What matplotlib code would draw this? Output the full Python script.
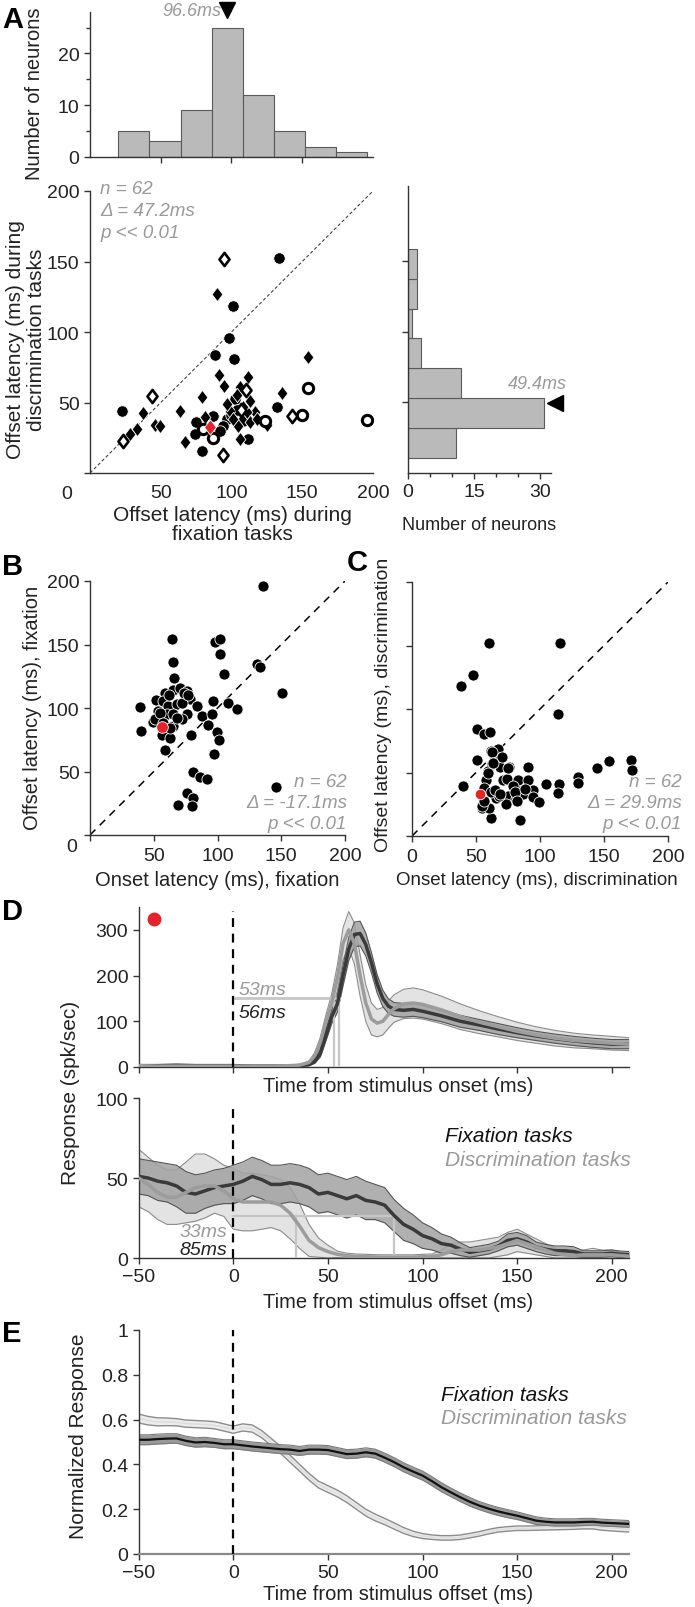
import numpy as np
import matplotlib
matplotlib.use('Agg')
import matplotlib.pyplot as plt
from matplotlib.path import Path

plt.rcParams['font.family'] = ['Liberation Sans', 'DejaVu Sans']

# ---------------- DATA ----------------
# Panel A: offset latency fixation (x) vs discrimination (y)
A_fc_x = [133.6, 101, 98, 88, 102, 102.5, 132, 96.6, 94.2, 87, 74, 79, 112, 75, 22.4, 100, 108, 104, 92]
A_fc_y = [152.3, 118.5, 96, 84, 80.5, 52.5, 46.6, 38, 33.5, 40.6, 27.6, 15.8, 24, 36, 44, 41, 37, 45, 30]
A_fd_x = [90, 154, 91.4, 95, 112, 79, 106, 113, 103.6, 135.5, 116.6, 110.7, 99, 104.8, 113, 125.3,
          63.6, 81, 67, 106, 37.7, 46, 49.5, 33, 28.3, 108, 97, 118, 101]
A_fd_y = [127, 82, 69.5, 62, 68, 53.7, 61, 51, 55, 57, 43, 43, 44, 33.5, 36, 34,
          44, 39.5, 21.8, 24, 42.5, 34, 33.5, 31, 27.6, 47, 49, 38, 38]
A_od_x = [95, 43.6, 23.5, 93.7, 142.5, 110, 107]
A_od_y = [152, 54.8, 23, 12.8, 40.6, 59, 45]
A_oc_x = [154, 150, 196, 80, 87, 123.7]
A_oc_y = [60, 41, 37.8, 31, 25, 37]
A_red = (85, 32.4)
A_stats = ['n = 62', 'Δ = 47.2ms', 'p << 0.01']

histA_left = [20, 42, 64, 86, 108, 130, 152, 174]
histA_counts = [5, 3, 9, 25, 12, 5, 2, 1]
histA_width = 22
histA_median = 96.6

histR_lo = [10.6, 31.8, 53.0, 74.2, 95.4, 116.6, 137.8]
histR_counts = [11, 31, 12, 3, 1, 2, 2]
histR_h = 21.2
histR_median = 49.4

# Panel B: onset latency fixation vs offset latency fixation
B_x = [64, 98, 102, 102, 65.4, 105, 130.7, 133.3, 66, 39, 40, 52, 59, 65, 70.6, 75.8, 78.4, 57.5, 61.4, 68,
       53.6, 60, 65.4, 75.8, 83.7, 96.7, 108.5, 115, 87.6, 95.4, 92.8, 49.7, 51, 65.4, 72, 56.2, 62.7, 79,
       99.4, 101, 58.8, 97.3, 135.4, 150.3, 145.6, 81, 86, 91.5, 76.3, 81, 69.3, 80.3,
       55, 62, 72, 68, 57, 74, 63, 77]
B_y = [154, 151.7, 154, 142.5, 136.5, 126.8, 134.6, 132, 124, 101, 82, 106, 112, 114, 116, 113.6, 107, 105.7,
       101.8, 103, 97.8, 95, 95, 95, 101.8, 105.7, 104.3, 99, 94, 95, 86.6, 88.6, 91.3, 86, 91.3, 78.7, 76.1,
       78.7, 80.9, 75, 67.2, 63.8, 196, 112.2, 38, 49.3, 46, 44, 33, 29, 23.8, 23,
       96, 110, 104, 92, 88, 112, 84, 110]
B_red = (56.2, 85.3)
B_stats = ['n = 62', 'Δ = -17.1ms', 'p << 0.01']

# Panel C: onset latency discrimination vs offset latency discrimination
C_x = [60, 116, 48, 38.5, 114, 50.8, 56, 61, 62, 67, 50.8, 62.8, 69, 69, 75.5, 59, 90.6, 40, 58, 71, 74.5,
       83, 91, 105, 115, 114, 130, 130, 144.5, 154, 171, 172, 84, 62, 55, 60, 66, 75, 73.7, 81.5, 83.6, 87,
       94.5, 94.5, 99, 56, 62, 68, 79, 65, 62.3, 70, 63.5, 75, 59.6, 68.75, 80.5, 88, 81.8, 54.4, 56.25]
C_y = [152, 152, 127, 118, 96, 84, 80, 82, 67, 68.8, 60, 57, 61.7, 54, 54, 51, 54.6, 39, 44, 44, 45,
       44, 44, 40.7, 40.7, 33.6, 46.7, 42, 53.8, 59, 60, 52, 12.6, 14.4, 22.3, 22.3, 30, 31.5, 25.5, 29, 35.4,
       32.8, 36, 31, 26.8, 38, 34.6, 31.5, 39.4, 36, 66.4, 62, 57.5, 53.3, 50, 33, 34.4, 37, 27.8, 23.9, 27.8]
C_red = (53, 33)
C_stats = ['n = 62', 'Δ = 29.9ms', 'p << 0.01']

# Panel D (top): responses aligned to stimulus onset
t_on = [-50, -40, -30, -20, -10, 0, 10, 20, 30, 35, 40, 43, 46, 49, 52, 55, 58, 61, 64, 67, 70, 73, 76,
        79, 82, 85, 90, 95, 100, 110, 120, 130, 140, 150, 160, 170, 180, 190, 200, 209]
on_fix_m = [3, 3, 4, 3, 3, 3, 2, 2, 2, 3, 5, 12, 30, 70, 110, 138, 200, 258, 290, 292, 268, 228, 182,
            150, 133, 126, 124, 126, 122, 112, 100, 92, 83, 75, 68, 62, 57, 53, 50, 50]
on_fix_s = [1.5, 1.5, 1.5, 1.5, 1.5, 1.5, 1.5, 1.5, 1.5, 1.5, 2, 4, 8, 12, 15, 18, 22, 25, 27, 27, 25, 22,
            20, 18, 16, 15, 15, 15, 14, 13, 13, 12, 12, 11, 10, 10, 10, 10, 10, 10]
on_dis_m = [3, 2, 2, 2, 2, 2, 2, 2, 3, 4, 10, 25, 55, 100, 140, 195, 270, 300, 270, 200, 140, 105, 96,
            100, 115, 128, 138, 140, 137, 125, 110, 98, 88, 78, 70, 63, 58, 55, 52, 50]
on_dis_s = [1.5, 1.5, 1.5, 1.5, 1.5, 1.5, 1.5, 1.5, 1.5, 2, 3, 6, 10, 15, 20, 28, 35, 40, 45, 45, 40, 35,
            30, 30, 30, 30, 32, 33, 32, 30, 28, 25, 22, 20, 18, 17, 16, 15, 15, 14]
on_lat_fix, on_lat_dis, on_thr = 56, 53, 150
on_lat_labels = ['53ms', '56ms']

# Panel D (bottom) and E: responses aligned to stimulus offset
t_off = list(range(-50, 211, 5))
off_fix_m = [51, 50, 48, 47, 45, 41, 40, 42, 44, 45, 46, 48, 51, 49, 46, 46, 47, 46, 44, 40, 41,
             39, 37, 39, 36, 35, 33, 26.5, 21, 18, 14, 12, 9, 8, 5.5, 3.5, 4.5, 5.5, 7.5, 11, 12,
             10, 7, 5.5, 4.5, 4.5, 4, 2.5, 2.5, 2.5, 3, 2.3, 2]
off_fix_s = [11, 11, 12, 12, 13, 13, 12, 11, 11, 11, 12, 12, 12, 12, 12, 12, 12, 12, 12, 12, 12,
             12, 12, 12, 12, 11, 11, 10, 10, 9, 8, 7, 6, 5, 4, 3, 3, 3, 3, 4, 4,
             4, 3, 3, 3, 3, 3, 2, 2, 2, 2, 2, 2]
off_dis_m = [50, 46, 41, 38, 38, 41, 44, 45, 45, 42, 37, 35, 35, 35, 35, 33, 28, 20, 11, 6.5, 4,
             2.3, 1.5, 1, 0.8, 0.6, 0.5, 0.5, 0.5, 0.5, 0.8, 1, 2, 4, 5, 5, 5, 6, 7, 9, 11,
             9, 7, 5, 3, 2, 1.5, 2, 2, 2, 2, 1.5, 1]
off_dis_s = [18, 17, 17, 17, 17, 19, 21, 20, 17, 16, 19, 18, 18, 17, 16, 16, 16, 14, 10, 6, 4,
             2, 1.5, 1.5, 1.5, 1.5, 1.5, 1.5, 1.5, 1.5, 1.5, 1.5, 3, 5, 5, 5, 6, 6, 6, 7, 7,
             6, 5, 4, 3, 3, 3, 3, 4, 3, 3, 2, 2]
off_lat_fix, off_lat_dis, off_thr = 85, 33, 26
off_lat_labels = ['33ms', '85ms']

norm_fix_m = [0.51, 0.51, 0.513, 0.515, 0.516, 0.505, 0.498, 0.5, 0.496, 0.49, 0.49, 0.485, 0.48, 0.476,
              0.472, 0.468, 0.466, 0.46, 0.466, 0.466, 0.464, 0.455, 0.446, 0.448, 0.454, 0.448, 0.43,
              0.41, 0.387, 0.368, 0.35, 0.325, 0.298, 0.275, 0.253, 0.233, 0.216, 0.202, 0.19, 0.18,
              0.171, 0.16, 0.149, 0.144, 0.141, 0.141, 0.141, 0.143, 0.144, 0.14, 0.138, 0.136, 0.134]
norm_fix_s = [0.022, 0.022, 0.022, 0.022, 0.021, 0.021, 0.021, 0.021, 0.02, 0.02, 0.02, 0.02, 0.02,
              0.02, 0.02, 0.02, 0.02, 0.02, 0.02, 0.02, 0.02, 0.02, 0.02, 0.02, 0.02, 0.02, 0.02,
              0.02, 0.02, 0.02, 0.02, 0.02, 0.02, 0.019, 0.019, 0.019, 0.018, 0.018, 0.018, 0.018,
              0.017, 0.017, 0.017, 0.016, 0.016, 0.016, 0.016, 0.016, 0.015, 0.015, 0.015, 0.015, 0.015]
norm_dis_m = [0.605, 0.595, 0.59, 0.59, 0.588, 0.582, 0.58, 0.578, 0.575, 0.565, 0.555, 0.565, 0.56,
              0.535, 0.5, 0.465, 0.425, 0.385, 0.345, 0.31, 0.29, 0.27, 0.245, 0.215, 0.185, 0.163,
              0.145, 0.125, 0.105, 0.09, 0.08, 0.075, 0.072, 0.072, 0.075, 0.082, 0.09, 0.1, 0.108,
              0.112, 0.115, 0.115, 0.116, 0.117, 0.118, 0.119, 0.12, 0.122, 0.122, 0.118, 0.115, 0.112, 0.11]
norm_dis_s = [0.02, 0.019, 0.018, 0.017, 0.016, 0.016, 0.016, 0.016, 0.016, 0.016, 0.016, 0.016, 0.016,
              0.016, 0.016, 0.016, 0.016, 0.015, 0.015, 0.015, 0.015, 0.015, 0.015, 0.015, 0.015, 0.015,
              0.014, 0.014, 0.013, 0.012, 0.011, 0.01, 0.01, 0.01, 0.01, 0.01, 0.01, 0.01, 0.01, 0.01,
              0.01, 0.01, 0.01, 0.01, 0.01, 0.01, 0.01, 0.01, 0.01, 0.012, 0.012, 0.012, 0.012]

red_dot_D = (-42, 324)

# ---------------- FIGURE ----------------
W, H = 695, 1608
fig = plt.figure(figsize=(W / 100, H / 100), dpi=100)
GRAY_TXT = '#9a9a9a'
RED = '#e4232b'
TXT = '#222222'

DIAMOND = Path([(0, 1), (0.76, 0), (0, -1), (-0.76, 0), (0, 1)],
               [Path.MOVETO, Path.LINETO, Path.LINETO, Path.LINETO, Path.CLOSEPOLY])


def add_ax(l, r, t, b):
    return fig.add_axes([l / W, 1 - b / H, (r - l) / W, (b - t) / H])


def ftext(x, y, s, **kw):
    fig.text(x / W, 1 - y / H, s, **kw)


def style(ax, ls=14):
    for s in ['top', 'right']:
        ax.spines[s].set_visible(False)
    for s in ['left', 'bottom']:
        ax.spines[s].set_linewidth(1.0)
        ax.spines[s].set_color('#333333')
    ax.tick_params(which='both', direction='out', width=1, colors='#333333',
                   labelsize=ls, labelcolor=TXT)
    ax.tick_params(which='major', length=4)
    ax.tick_params(which='minor', length=3)
    ax.set_facecolor('none')


# ---- A: top histogram
axh = add_ax(90, 373, 13, 158)
style(axh)
axh.bar(histA_left, histA_counts, width=histA_width, align='edge', color='#bababa',
        edgecolor='#5a5a5a', linewidth=0.8)
axh.set_xlim(0, 200)
axh.set_ylim(0, 28)
axh.set_yticks([0, 10, 20])
axh.set_yticks([5, 15, 25], minor=True)
axh.set_xticks([50, 100, 150])
axh.set_xticklabels([])
ftext(35, 94, 'Number of neurons', rotation=90, ha='center', va='center', fontsize=14.5, color=TXT)
axh.plot([histA_median], [28.3], marker='v', color='k', ms=11, clip_on=False)
axh.text(histA_median - 4, 28.3, f'{histA_median}ms', ha='right', va='center',
         color=GRAY_TXT, style='italic', fontsize=13, clip_on=False)

# ---- A: right histogram
axr = add_ax(408, 551, 187, 474)
style(axr)
axr.barh(histR_lo, histR_counts, height=histR_h, align='edge', color='#bababa',
         edgecolor='#5a5a5a', linewidth=0.8)
axr.set_xlim(0, 32.5)
axr.set_ylim(0, 203.5)
axr.set_xticks([0, 15, 30])
axr.set_xticks([5, 10, 20, 25], minor=True)
axr.set_yticks([50, 100, 150])
axr.set_yticklabels([])
ftext(479, 525, 'Number of neurons', ha='center', va='center', fontsize=13, color=TXT)
axr.plot([33.3], [histR_median], marker='<', color='k', ms=11, clip_on=False)
axr.text(29.3, 63.8, f'{histR_median}ms', ha='center', va='center', color=GRAY_TXT,
         style='italic', fontsize=13, clip_on=False)

# ---- A: scatter
axa = add_ax(90, 373, 192, 474)
style(axa)
axa.plot([0, 200], [0, 200], ls=(0, (3, 2)), color='#444444', lw=0.8, zorder=1)
axa.scatter(A_fc_x, A_fc_y, s=68, marker='o', c='k', edgecolors='white', linewidths=0.6, zorder=3)
axa.scatter(A_fd_x, A_fd_y, s=105, marker=DIAMOND, c='k', edgecolors='white', linewidths=0.6, zorder=3)
axa.scatter(A_od_x, A_od_y, s=90, marker=DIAMOND, facecolors='white', edgecolors='k', linewidths=1.9, zorder=4)
axa.scatter(A_oc_x, A_oc_y, s=55, marker='o', facecolors='white', edgecolors='k', linewidths=2.2, zorder=4)
axa.scatter([A_red[0]], [A_red[1]], s=125, marker=DIAMOND, c=RED, edgecolors='white', linewidths=0.6, zorder=5)
axa.set_xlim(0, 200)
axa.set_ylim(0, 200)
axa.set_xticks([0, 50, 100, 150, 200])
axa.set_xticklabels(['', '50', '100', '150', '200'])
axa.set_yticks([0, 50, 100, 150, 200])
axa.set_yticklabels(['', '50', '100', '150', '200'])
axa.tick_params(axis='x', length=0, pad=8)
ftext(232, 525, 'Offset latency (ms) during\nfixation tasks', ha='center', va='center',
      fontsize=15, color=TXT, linespacing=1.0)
ftext(26, 340, 'Offset latency (ms) during\ndiscrimination tasks', rotation=90, ha='center',
      va='center', fontsize=15, color=TXT, linespacing=1.1)
ftext(67, 495, '0', ha='center', va='center', fontsize=14, color=TXT)
for i, s in enumerate(A_stats):
    ftext(100, 190 + 22 * i, s, ha='left', va='center', color=GRAY_TXT, style='italic', fontsize=13.5)

# ---- B
axb = add_ax(90, 345, 582, 836)
style(axb)
axb.plot([0, 200], [0, 200], ls=(0, (5, 4)), color='k', lw=1.1, zorder=1)
axb.scatter(B_x, B_y, s=64, marker='o', c='k', edgecolors='white', linewidths=0.6, zorder=3)
axb.scatter([B_red[0]], [B_red[1]], s=70, marker='o', c=RED, edgecolors='white', linewidths=0.6, zorder=4)
axb.set_xlim(0, 200)
axb.set_ylim(0, 200)
axb.set_xticks([0, 50, 100, 150, 200])
axb.set_xticklabels(['', '50', '100', '150', '200'])
axb.set_yticks([0, 50, 100, 150, 200])
axb.set_yticklabels(['', '50', '100', '150', '200'])
axb.tick_params(axis='x', pad=5)
ftext(217, 881, 'Onset latency (ms), fixation', ha='center', va='center', fontsize=14.5, color=TXT)
ftext(33, 708, 'Offset latency (ms), fixation', rotation=90, ha='center', va='center',
      fontsize=14.5, color=TXT)
ftext(72, 848, '0', ha='center', va='center', fontsize=14, color=TXT)
for i, s in enumerate(B_stats):
    ftext(347, 783 + 21 * i, s, ha='right', va='center', color=GRAY_TXT, style='italic', fontsize=13.5)

# ---- C
axc = add_ax(412, 668, 583, 837)
style(axc)
axc.plot([0, 200], [0, 200], ls=(0, (5, 4)), color='k', lw=1.1, zorder=1)
axc.scatter(C_x, C_y, s=64, marker='o', c='k', edgecolors='white', linewidths=0.6, zorder=3)
axc.scatter([C_red[0]], [C_red[1]], s=58, marker='o', c=RED, edgecolors='white', linewidths=0.6, zorder=4)
axc.set_xlim(0, 200)
axc.set_ylim(0, 200)
axc.set_xticks([0, 50, 100, 150, 200])
axc.set_yticks([0, 50, 100, 150, 200])
axc.set_yticklabels([])
axc.tick_params(axis='x', pad=5)
ftext(537, 881, 'Onset latency (ms), discrimination', ha='center', va='center', fontsize=13.5, color=TXT)
ftext(383, 705, 'Offset latency (ms), discrimination', rotation=90, ha='center', va='center',
      fontsize=14, color=TXT)
for i, s in enumerate(C_stats):
    ftext(682, 783 + 21 * i, s, ha='right', va='center', color=GRAY_TXT, style='italic', fontsize=13.5)


# ---- D / E helpers
def band(ax, t, m, s, fill, edge, lw_edge, z, alpha=1.0):
    t = np.asarray(t, float)
    m = np.asarray(m, float)
    s = np.asarray(s, float)
    lo = np.clip(m - s, 0, None)
    hi = m + s
    ax.fill_between(t, lo, hi, color=fill, lw=0, zorder=z, alpha=alpha)
    ax.plot(t, lo, color=edge, lw=lw_edge, zorder=z + 0.1)
    ax.plot(t, hi, color=edge, lw=lw_edge, zorder=z + 0.1)


XL, XR = 138.7, 628.8

# ---- D top
axd1 = add_ax(XL, XR, 908, 1068)
style(axd1, ls=14)
band(axd1, t_on, on_dis_m, on_dis_s, '#e3e3e3', '#8c8c8c', 0.8, 1)
band(axd1, t_on, on_fix_m, on_fix_s, '#a2a2a2', '#555555', 0.8, 2, alpha=0.85)
axd1.plot([0, on_lat_fix], [on_thr, on_thr], color='#c6c6c6', lw=2, zorder=3)
axd1.plot([on_lat_dis, on_lat_dis], [0, on_thr], color='#c6c6c6', lw=1.6, zorder=3)
axd1.plot([on_lat_fix, on_lat_fix], [0, on_thr], color='#c6c6c6', lw=1.6, zorder=3)
axd1.plot(t_on, on_fix_m, color='#3a3a3a', lw=2.5, zorder=4)
axd1.plot(t_on, on_dis_m, color='#9c9c9c', lw=2.5, zorder=5)
axd1.plot([0, 0], [0, 341], color='k', ls=(0, (4, 3)), lw=1.6, zorder=6)
axd1.plot([red_dot_D[0]], [red_dot_D[1]], 'o', color=RED, ms=9, zorder=6)
axd1.text(3, 170, on_lat_labels[0], color=GRAY_TXT, style='italic', fontsize=14, va='center', ha='left')
axd1.text(3, 120, on_lat_labels[1], color=TXT, style='italic', fontsize=14, va='center', ha='left')
axd1.set_xlim(-50, 209)
axd1.set_ylim(0, 350)
axd1.set_xticks([-50, 0, 50, 100, 150, 200])
axd1.set_xticklabels([])
axd1.set_yticks([0, 100, 200, 300])
ftext(398, 1086, 'Time from stimulus onset (ms)', ha='center', va='center', fontsize=14.5, color=TXT)

# ---- D bottom
axd2 = add_ax(XL, XR, 1099, 1259)
style(axd2, ls=14)
band(axd2, t_off, off_dis_m, off_dis_s, '#e3e3e3', '#8c8c8c', 0.8, 1)
band(axd2, t_off, off_fix_m, off_fix_s, '#a2a2a2', '#555555', 0.8, 2, alpha=0.85)
axd2.plot([0, off_lat_fix], [off_thr, off_thr], color='#c6c6c6', lw=1.6, zorder=3)
axd2.plot([off_lat_dis, off_lat_dis], [0, off_thr], color='#c6c6c6', lw=1.6, zorder=3)
axd2.plot([off_lat_fix, off_lat_fix], [0, off_thr], color='#c6c6c6', lw=1.6, zorder=3)
axd2.plot(t_off, off_fix_m, color='#3a3a3a', lw=2.5, zorder=4)
axd2.plot(t_off, off_dis_m, color='#9c9c9c', lw=2.5, zorder=5)
axd2.plot([0, 0], [0, 97], color='k', ls=(0, (4, 3)), lw=1.6, zorder=6)
axd2.text(-3, 16.5, off_lat_labels[0], color=GRAY_TXT, style='italic', fontsize=14, va='center', ha='right', zorder=7)
axd2.text(-3, 5.6, off_lat_labels[1], color=TXT, style='italic', fontsize=14, va='center', ha='right', zorder=7)
axd2.set_xlim(-50, 209)
axd2.set_ylim(0, 100)
axd2.set_xticks([-50, 0, 50, 100, 150, 200])
axd2.set_yticks([0, 50, 100])
ftext(398, 1303, 'Time from stimulus offset (ms)', ha='center', va='center', fontsize=14.5, color=TXT)
ftext(445, 1137, 'Fixation tasks', ha='left', va='center', fontsize=15, style='italic', color='#111111')
ftext(445, 1161, 'Discrimination tasks', ha='left', va='center', fontsize=15, style='italic', color=GRAY_TXT)
ftext(71, 1093, 'Response (spk/sec)', rotation=90, ha='center', va='center', fontsize=15, color=TXT)

# ---- E
axe = add_ax(XL, XR, 1331, 1555)
style(axe, ls=14)
band(axe, t_off, norm_dis_m, norm_dis_s, '#ececec', '#8c8c8c', 1.0, 1)
axe.plot(t_off, norm_dis_m, color='#dddddd', lw=1.0, zorder=1.5)
band(axe, t_off, norm_fix_m, norm_fix_s, '#9a9a9a', '#7a7a7a', 0.8, 2)
axe.plot(t_off, norm_fix_m, color='#111111', lw=1.6, zorder=4)
axe.plot([0, 0], [0, 1], color='k', ls=(0, (4, 3)), lw=1.6, zorder=6)
axe.spines['bottom'].set_color('#8a8a8a')
axe.spines['bottom'].set_linewidth(1.6)
axe.set_xlim(-50, 209)
axe.set_ylim(0, 1)
axe.set_xticks([-50, 0, 50, 100, 150, 200])
axe.set_yticks([0, 0.2, 0.4, 0.6, 0.8, 1])
axe.set_yticklabels(['0', '0.2', '0.4', '0.6', '0.8', '1'])
ftext(398, 1595, 'Time from stimulus offset (ms)', ha='center', va='center', fontsize=14.5, color=TXT)
ftext(78, 1436, 'Normalized Response', rotation=90, ha='center', va='center', fontsize=15, color=TXT)
ftext(441, 1396, 'Fixation tasks', ha='left', va='center', fontsize=15, style='italic', color='#111111')
ftext(441, 1419, 'Discrimination tasks', ha='left', va='center', fontsize=15, style='italic', color=GRAY_TXT)

# ---- panel letters
for letter, (x, y) in zip('ABCDE', [(2, 6), (2, 553), (347, 549), (2, 898), (2, 1320)]):
    ftext(x, y, letter, ha='left', va='top', fontsize=21, fontweight='bold', color='k')

fig.savefig('out.png', dpi=100)
